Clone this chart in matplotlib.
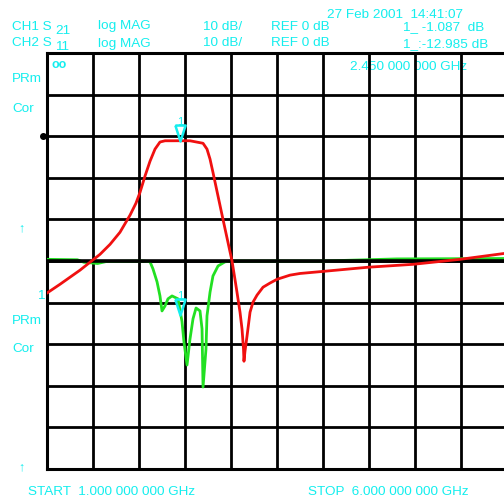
import numpy as np
import matplotlib
matplotlib.use('Agg')  # no display in the sandbox
import matplotlib.pyplot as plt
from matplotlib.transforms import blended_transform_factory, offset_copy

# --- traces (GHz, dB) ---
s21_freq = [1.000, 1.141, 1.250, 1.359, 1.467, 1.576, 1.685, 1.793, 1.902,
            1.967, 2.011, 2.065, 2.120, 2.174, 2.228, 2.283, 2.370, 2.446,
            2.554, 2.696, 2.739, 2.772, 2.804, 2.859, 2.913, 2.967, 3.011,
            3.043, 3.065, 3.098, 3.120, 3.136, 3.141, 3.152, 3.174, 3.207,
            3.239, 3.283, 3.348, 3.424, 3.500, 3.641, 3.750, 4.000, 4.489,
            4.978, 5.489, 6.000]
s21_db = [-37.7, -35.6, -33.9, -32.2, -30.3, -28.4, -26.0, -23.1, -19.0,
          -16.1, -13.5, -9.6, -6.0, -3.1, -1.4, -1.1, -1.1, -1.09,
          -1.1, -1.7, -3.1, -5.5, -8.7, -14.4, -20.0, -25.5, -30.0,
          -34.4, -37.5, -42.3, -46.4, -51.2, -54.1, -51.7, -48.1, -42.3,
          -39.9, -38.2, -36.3, -35.3, -34.4, -33.4, -33.0, -32.5, -31.5,
          -30.8, -29.6, -28.1]

s11_freq = [1.000, 1.330, 1.400, 1.550, 1.650, 2.050, 2.120, 2.152, 2.196,
            2.228, 2.250, 2.283, 2.315, 2.359, 2.424, 2.467, 2.489, 2.522,
            2.554, 2.587, 2.620, 2.663, 2.685, 2.696, 2.728, 2.739, 2.772,
            2.804, 2.859, 2.935, 3.011, 4.000, 4.800, 6.000]
s11_db = [0.4, 0.3, -0.3, -0.6, -0.1, 0.0, -0.2, -1.9, -5.0,
          -8.4, -12.0, -10.8, -9.1, -8.4, -9.1, -14.5, -19.5, -25.0,
          -18.8, -13.9, -11.3, -12.0, -16.3, -30.3, -21.2, -13.2, -7.5,
          -3.6, -1.2, -0.2, 0.0, 0.0, 0.5, 0.6]

marker_freq = 2.45
marker_s21 = -1.087
marker_s11 = -12.985

start_ghz, stop_ghz = 1.0, 6.0
ch2_shift = -30          # CH2 reference sits 3 divisions under CH1

CYAN = '#14EEEE'
RED = '#F01010'
GREEN = '#22E022'
FS = 9.7

plt.rcParams['font.family'] = ['Liberation Sans', 'DejaVu Sans']

W, H = 504, 498
fig = plt.figure(figsize=(W / 100, H / 100), dpi=100)
fig.patch.set_facecolor('white')


def px(x, y):
    # screen pixel -> figure fraction (text centre sits ~1.5px high otherwise)
    return x / W, 1 - (y + 1.5) / H


def label(x, y, s, size=FS, **kw):
    kw.setdefault('va', 'center')
    fig.text(*px(x, y), s, color=CYAN, fontsize=size, ha='left', **kw)


# graticule: 10 x 10 divisions, right edge falls just off the screen
ax = fig.add_axes([47 / W, 29 / H, 460 / W, 416 / H])
ax.set_xlim(start_ghz, stop_ghz)
ax.set_ylim(-80, 20)
ax.set_xticks(np.arange(start_ghz, stop_ghz + 0.01, 0.5))
ax.set_yticks(np.arange(-80, 21, 10))
ax.set_axisbelow(False)
ax.grid(True, color='black', lw=2.0)
ax.tick_params(length=0, labelbottom=False, labelleft=False)
for sp in ax.spines.values():
    sp.set_linewidth(2.2)
    sp.set_color('black')
ax.axhline(ch2_shift, color='black', lw=2.6, zorder=3.05)

ax.plot(s11_freq, np.array(s11_db) + ch2_shift, color=GREEN, lw=2.0, zorder=3)
ax.plot(s21_freq, s21_db, color=RED, lw=2.0, zorder=3.1)

# markers: hollow triangles with the tip on the trace
tri = [(-0.32, 1), (0.32, 1), (0, 0), (-0.32, 1)]
for val in [marker_s21, marker_s11 + ch2_shift]:
    ax.plot(marker_freq, val, marker=tri, ms=23, mfc='none', mec=CYAN,
            mew=1.8, zorder=4, clip_on=False)
    ax.text(marker_freq, val, '1', color=CYAN, fontsize=8, ha='center', va='bottom',
            transform=offset_copy(ax.transData, fig, y=14, units='dots'), zorder=4)

# CH1 reference pointer on the left edge
bt = blended_transform_factory(ax.transAxes, ax.transData)
ax.plot(-0.009, 0, 'o', color='black', ms=4, transform=bt, clip_on=False)

# stimulus readout sits under the graticule
ax.text(*px(350, 66), '2.450 000 000 GHz', transform=fig.transFigure, color=CYAN,
        fontsize=FS, va='center', ha='left', zorder=1)

# header
label(327, 14, '27 Feb 2001  14:41:07')
label(12, 25, 'CH1 S')
label(55, 29, '21')
label(12, 42, 'CH2 S')
label(55, 46, '11')
for y in [25, 42]:
    label(98, y, 'log MAG')
    label(203, y, '10 dB/')
    label(271, y, 'REF 0 dB')
label(403, 26, '1_ -1.087  dB')
label(403, 43, '1_:-12.985 dB')

# left annotations
label(51, 64, 'oo', size=9, fontweight='bold')
label(12, 77, 'PRm')
label(12, 107, 'Cor')
label(18, 227, '↑', size=9, fontweight='bold')
label(37, 294, '1')
label(12, 319, 'PRm')
label(12, 347, 'Cor')
label(18, 466, '↑', size=9, fontweight='bold')

# footer, kept clear of the bottom edge
label(28, 496, 'START  1.000 000 000 GHz', va='bottom')
label(308, 496, 'STOP  6.000 000 000 GHz', va='bottom')

fig.savefig('out.png', dpi=100)
